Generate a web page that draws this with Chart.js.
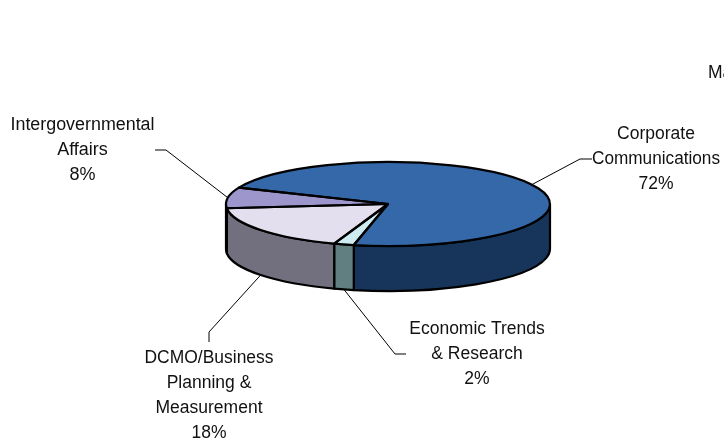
<!DOCTYPE html>
<html>
<head>
<meta charset="utf-8">
<title>Pie</title>
<script src="https://cdn.jsdelivr.net/npm/chart.js@4/dist/chart.umd.min.js"></script>
<style>
  html, body { margin: 0; background: #fff; }
  canvas { display: block; }
</style>
</head>
<body>
<canvas id="pie" width="724" height="442"></canvas>
<script>
// slices, clockwise from the back left
const categories = ["Corporate Communications", "Economic Trends & Research", "DCMO/Business Planning & Measurement", "Intergovernmental Affairs"];
const shares = [72, 2, 18, 8];
const topColors = ["#3568A8", "#CDEBF0", "#E3DFEF", "#9C96CC"];
const sideColors = ["#17355A", "#617F80", "#72707F", "#4E4B66"];

// wrapped label text, one array per slice
const labelLines = [
  ["Corporate", "Communications"],
  ["Economic Trends", "& Research"],
  ["DCMO/Business", "Planning &", "Measurement"],
  ["Intergovernmental", "Affairs"]
];

// where each label sits and how its leader line bends
const labelBoxes = [
  { x: 656, y: 134.5, size: 17.5, maxWidth: 128, elbow: [[580, 159], [592, 159]], front: false },
  { x: 477, y: 329.5, size: 17.5, maxWidth: 137, elbow: [[395, 354], [406, 354]], front: true },
  { x: 209, y: 358.5, size: 17.5, maxWidth: 129, elbow: [[209, 332], [209, 342]], front: true },
  { x: 82.5, y: 125.5, size: 18, maxWidth: 144, elbow: [[166, 150], [155, 150]], front: false }
];

const squash = 42 / 162;
const depth = 45;
const lineHeight = 24.8;

function sidePanels(arc) {
  // the part of a slice that faces the viewer: canvas angles 0..PI
  const out = [];
  for (let k = 0; k < 2; k++) {
    const a = Math.max(arc.startAngle, k * 2 * Math.PI);
    const b = Math.min(arc.endAngle, k * 2 * Math.PI + Math.PI);
    if (b > a) out.push([a, b]);
  }
  return out;
}

const pie3d = {
  id: "pie3d",
  beforeDatasetsDraw(chart) {
    const ctx = chart.ctx;
    const arcs = chart.getDatasetMeta(0).data;
    ctx.save();
    ctx.lineWidth = 2.2;
    ctx.lineJoin = "round";
    ctx.strokeStyle = "#000";
    arcs.forEach((arc, i) => {
      const ry = arc.outerRadius * squash;
      sidePanels(arc).forEach(([a, b]) => {
        ctx.beginPath();
        ctx.ellipse(arc.x, arc.y, arc.outerRadius, ry, 0, a, b);
        ctx.ellipse(arc.x, arc.y + depth, arc.outerRadius, ry, 0, b, a, true);
        ctx.closePath();
        ctx.fillStyle = sideColors[i];
        ctx.fill();
        ctx.stroke();
      });
    });
    ctx.restore();

    // the library's arcs form the lid, flattened about the pie centre
    const first = arcs[0];
    ctx.save();
    ctx.translate(first.x, first.y);
    ctx.scale(1, squash);
    ctx.translate(-first.x, -first.y);
  },
  afterDatasetsDraw(chart) {
    const ctx = chart.ctx;
    ctx.restore();
    const arcs = chart.getDatasetMeta(0).data;

    // lid outlines are stroked here so the pen width is not squashed
    ctx.save();
    ctx.lineWidth = 2.2;
    ctx.lineJoin = "round";
    ctx.strokeStyle = "#000";
    arcs.forEach((arc) => {
      ctx.beginPath();
      ctx.moveTo(arc.x, arc.y);
      ctx.ellipse(arc.x, arc.y, arc.outerRadius, arc.outerRadius * squash, 0, arc.startAngle, arc.endAngle);
      ctx.closePath();
      ctx.stroke();
    });
    ctx.restore();

    // leader lines and labels
    ctx.save();
    ctx.strokeStyle = "#000";
    ctx.lineWidth = 1;
    ctx.fillStyle = "#111";
    ctx.textAlign = "center";
    ctx.textBaseline = "middle";
    arcs.forEach((arc, i) => {
      const box = labelBoxes[i];
      const mid = (arc.startAngle + arc.endAngle) / 2;
      const px = arc.x + arc.outerRadius * Math.cos(mid);
      const py = arc.y + arc.outerRadius * squash * Math.sin(mid) + (box.front ? depth : 0);
      ctx.beginPath();
      ctx.moveTo(px, py);
      box.elbow.forEach(([x, y]) => ctx.lineTo(x, y));
      ctx.stroke();
      ctx.font = box.size + 'px "Liberation Sans", Arial, sans-serif';
      labelLines[i].concat(shares[i] + "%").forEach((line, n) => {
        ctx.fillText(line, box.x, box.y + n * lineHeight, box.maxWidth);
      });
    });
    // title running off the right edge
    ctx.font = '17.5px "Liberation Sans", Arial, sans-serif';
    ctx.textAlign = "left";
    ctx.fillText("Ma", 708, 73.5);
    ctx.restore();
  }
};

new Chart(document.getElementById("pie"), {
  type: "pie",
  data: {
    labels: categories,
    datasets: [{
      data: shares,
      backgroundColor: topColors,
      borderWidth: 0
    }]
  },
  options: {
    responsive: false,
    animation: false,
    rotation: 293,
    radius: 162,
    layout: { padding: { left: 52, bottom: 34 } },
    plugins: {
      legend: { display: false },
      tooltip: { enabled: false }
    }
  },
  plugins: [pie3d]
});
</script>
</body>
</html>
